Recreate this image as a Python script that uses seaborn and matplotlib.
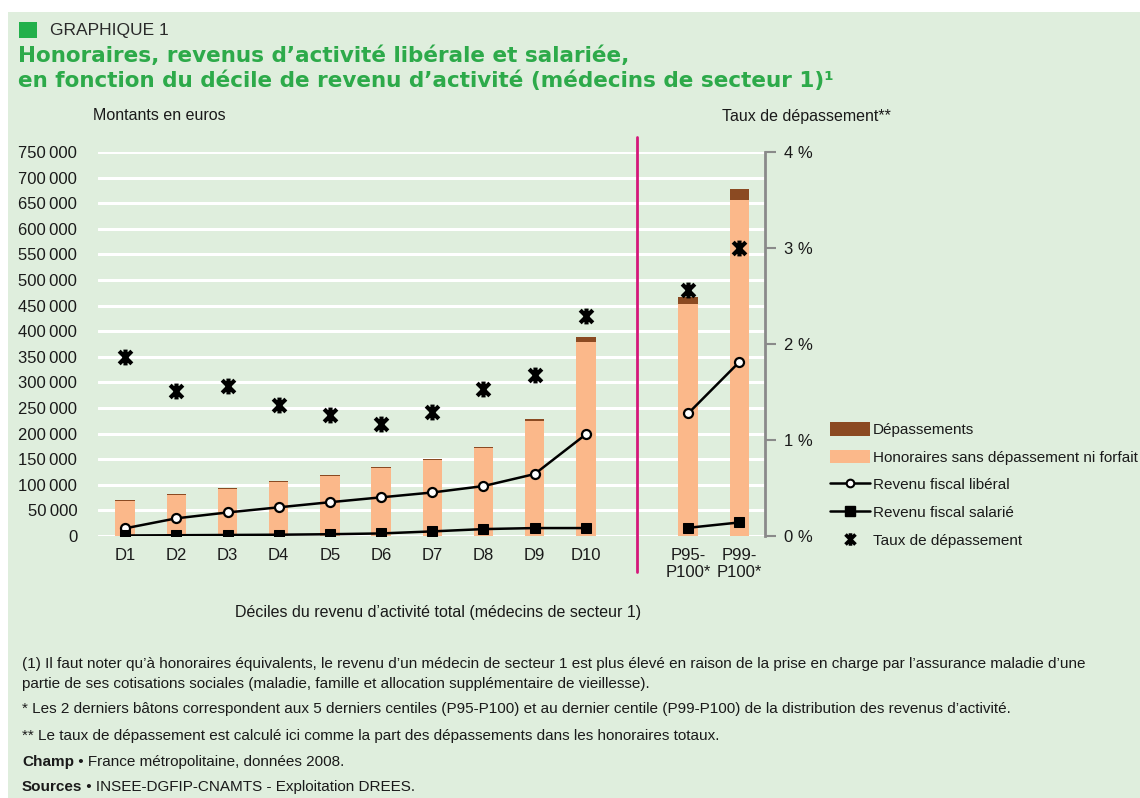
import numpy as np
import pandas as pd
import matplotlib
matplotlib.use("Agg")
import matplotlib.pyplot as plt
from matplotlib.path import Path
from matplotlib.patches import Patch, Rectangle
from matplotlib.lines import Line2D
import seaborn as sns

# ---- data ----
categories = ["D1", "D2", "D3", "D4", "D5", "D6", "D7", "D8", "D9", "D10",
              "P95-\nP100*", "P99-\nP100*"]
positions = [0, 1, 2, 3, 4, 5, 6, 7, 8, 9, 11, 12]
groups = ["dec"] * 10 + ["pct"] * 2
honoraires_sans_dep = [68700, 80300, 92500, 105000, 117000, 132500, 147500, 171000,
                       224500, 379000, 453000, 657000]
depassements = [1300, 1200, 1500, 1500, 1500, 1600, 2000, 2600, 3800, 9000, 13000, 20000]
revenu_liberal = [15000, 34500, 46000, 56000, 66000, 75500, 85000, 97500, 121000,
                  198500, 239500, 340000]
revenu_salarie = [1000, 1500, 2000, 2500, 3500, 5000, 9000, 13500, 15500, 15500,
                  16000, 26500]
taux_depassement = [1.86, 1.51, 1.56, 1.36, 1.26, 1.17, 1.29, 1.53, 1.68, 2.29, 2.56, 3.00]
left_ticks = list(range(0, 750001, 50000))
right_ticks = [0, 1, 2, 3, 4]

df = pd.DataFrame({
    "pos": positions, "grp": groups,
    "hon": honoraires_sans_dep, "dep": depassements,
    "lib": revenu_liberal, "sal": revenu_salarie, "taux": taux_depassement,
})
df["total"] = df["hon"] + df["dep"]

sns.set_theme(style="white")
plt.rcParams["font.family"] = ["Liberation Sans", "DejaVu Sans"]

W, H = 1140, 798
fig = plt.figure(figsize=(W / 100, H / 100), dpi=100)
fig.patch.set_facecolor("white")
BG = "#dfeedd"
fig.patches.append(Rectangle((8 / W, 0), 1 - 8 / W, 1 - 12 / H, transform=fig.transFigure,
                             facecolor=BG, edgecolor="none", zorder=-10))

def fx(px):
    return px / W

def fy(py):
    return 1 - py / H

ax = fig.add_axes([fx(98), fy(536), fx(765) - fx(98), fy(152) - fy(536)])
ax.set_facecolor("none")

BROWN = "#8b4a22"
PEACH = "#fbb88a"
TXT = "#1a1a1a"

for t in left_ticks:
    ax.axhline(t, color="white", lw=2.2, zorder=0)

sns.barplot(data=df, x="pos", y="total", native_scale=True, color=BROWN, width=0.38,
            saturation=1, ax=ax, zorder=2, errorbar=None, linewidth=0, edgecolor="none")
sns.barplot(data=df, x="pos", y="hon", native_scale=True, color=PEACH, width=0.38,
            saturation=1, ax=ax, zorder=3, errorbar=None, linewidth=0, edgecolor="none")

sns.lineplot(data=df, x="pos", y="lib", units="grp", estimator=None, color="black", lw=1.8,
             marker="o", markersize=6.5, markerfacecolor="white", markeredgecolor="black",
             markeredgewidth=1.6, ax=ax, zorder=5, legend=False)
sns.lineplot(data=df, x="pos", y="sal", units="grp", estimator=None, color="black", lw=1.8,
             marker="s", markersize=7, markerfacecolor="black", markeredgecolor="black",
             ax=ax, zorder=5, legend=False)

ax.set_xlim(-0.53, 12.5)
ax.set_ylim(0, 750000)
ax.set_xticks(positions)
ax.set_xticklabels(categories, fontsize=12, color=TXT, linespacing=1.15)
ax.set_yticks(left_ticks)
ax.set_yticklabels([f"{t:,}".replace(",", "\u2009") if t else "0" for t in left_ticks],
                   fontsize=12, color=TXT)
ax.tick_params(axis="x", length=0, pad=9)
ax.tick_params(axis="y", length=0, pad=15)
ax.set_xlabel("")
ax.set_ylabel("")
for s in ax.spines.values():
    s.set_visible(False)

# separator
ax.plot([10, 10], [-0.095, 1.04], transform=ax.get_xaxis_transform(), color="#d4177a",
        lw=2, clip_on=False, zorder=6)

# right axis
ax2 = ax.twinx()
star = Path([(-1, -1), (1, 1), (-1, 1), (1, -1), (0, -1.25), (0, 1.25)],
            [Path.MOVETO, Path.LINETO, Path.MOVETO, Path.LINETO, Path.MOVETO, Path.LINETO])
sns.scatterplot(data=df, x="pos", y="taux", marker=star, s=130, color="black",
                linewidth=3.0, edgecolor="black", ax=ax2, zorder=7, legend=False)
ax2.set_ylim(0, 4)
ax2.set_xlim(-0.53, 12.5)
ax2.set_yticks(right_ticks)
ax2.set_yticklabels([f"{t} %" for t in right_ticks], fontsize=12, color=TXT)
ax2.set_ylabel("")
for k, s in ax2.spines.items():
    s.set_visible(k == "right")
ax2.spines["right"].set_color("#8a8a8a")
ax2.spines["right"].set_linewidth(2)
ax2.tick_params(axis="y", length=8, width=1.5, color="#8a8a8a", pad=6, direction="out")

# texts
fig.patches.append(Rectangle((fx(19), fy(38)), 18 / W, 16 / H, transform=fig.transFigure,
                             facecolor="#22b04b", edgecolor="none"))
fig.text(fx(50), fy(30), "GRAPHIQUE 1", fontsize=12.5, color="#2a2a2a", va="center")
GREEN = "#2daa4a"
fig.text(fx(18), fy(56), "Honoraires, revenus d\u2019activité libérale et salariée,",
         fontsize=15.5, color=GREEN, fontweight="bold", va="center",
         family=["DejaVu Sans"])
fig.text(fx(18), fy(81),
         "en fonction du décile de revenu d\u2019activité (médecins de secteur 1)\u00b9",
         fontsize=15.5, color=GREEN, fontweight="bold", va="center", family=["DejaVu Sans"])
fig.text(fx(93), fy(116), "Montants en euros", fontsize=11.5, color=TXT, va="center")
fig.text(fx(722), fy(116), "Taux de dépassement**", fontsize=11.5, color=TXT, va="center")
fig.text(fx(438), fy(613), "Déciles du revenu d\u2019activité total (médecins de secteur 1)",
         fontsize=11.5, color=TXT, ha="center", va="center")

# legend
handles = [
    Patch(facecolor=BROWN, edgecolor="none"),
    Patch(facecolor=PEACH, edgecolor="none"),
    Line2D([], [], color="black", lw=1.8, marker="o", markersize=5.5, markerfacecolor="white",
           markeredgecolor="black", markeredgewidth=1.5),
    Line2D([], [], color="black", lw=1.8, marker="s", markersize=6.5, markerfacecolor="black"),
    Line2D([], [], color="none", marker=star, markersize=9, markeredgecolor="black",
           markeredgewidth=2.6),
]
labels = ["Dépassements", "Honoraires sans dépassement ni forfait", "Revenu fiscal libéral",
          "Revenu fiscal salarié", "Taux de dépassement"]
fig.legend(handles, labels, loc="upper left", bbox_to_anchor=(fx(824), fy(416)),
           frameon=False, fontsize=11, handlelength=2.6, handleheight=1.0,
           handletextpad=0.2, labelspacing=0.82, borderaxespad=0, labelcolor=TXT)

FS = 11
foot = [
    (664, "(1) Il faut noter qu\u2019à honoraires équivalents, le revenu d\u2019un médecin de secteur 1 est plus élevé en raison de la prise en charge par l\u2019assurance maladie d\u2019une"),
    (684, "partie de ses cotisations sociales (maladie, famille et allocation supplémentaire de vieillesse)."),
    (709, "* Les 2 derniers bâtons correspondent aux 5 derniers centiles (P95-P100) et au dernier centile (P99-P100) de la distribution des revenus d\u2019activité."),
    (736, "** Le taux de dépassement est calculé ici comme la part des dépassements dans les honoraires totaux."),
]
for y, t in foot:
    fig.text(fx(22), fy(y), t, fontsize=FS, color=TXT, va="center")

renderer = fig.canvas.get_renderer()
for y, bold, rest in [(762, "Champ", " \u2022 France métropolitaine, données 2008."),
                      (787, "Sources", " \u2022 INSEE-DGFIP-CNAMTS - Exploitation DREES.")]:
    tb = fig.text(fx(22), fy(y), bold, fontsize=FS, color=TXT, va="center", fontweight="bold")
    bb = tb.get_window_extent(renderer)
    fig.text(bb.x1 / W, fy(y), rest, fontsize=FS, color=TXT, va="center")

fig.savefig("out.png", dpi=100)
